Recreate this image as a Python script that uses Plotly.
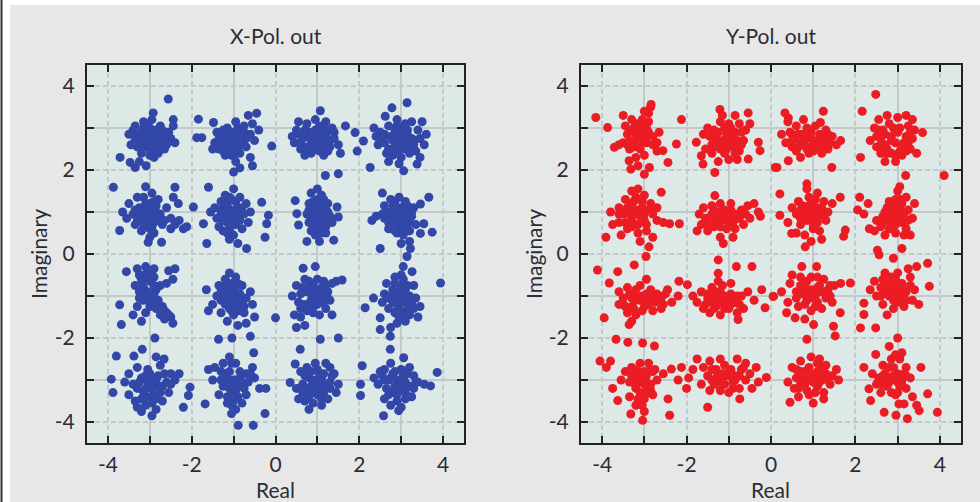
import plotly.graph_objects as go

# ---------------- data (Real, Imaginary) ----------------
xpol_points = [
    # (-3, 3)
    (-3.0,2.75),(-3.2,2.9),(-2.85,2.95),(-3.1,2.55),(-2.9,2.6),(-3.35,2.75),(-3.4,2.95),(-2.7,2.8),(-2.6,2.6),
    (-3.05,3.1),(-2.95,3.2),(-3.2,2.4),(-2.8,2.4),(-3.3,2.55),(-2.5,2.75),(-2.4,2.65),(-3.5,2.85),(-3.15,3.15),
    (-2.75,3.05),(-3.0,2.35),(-2.65,2.5),(-3.45,2.6),(-2.55,2.9),(-3.25,2.2),(-2.9,2.3),(-2.56,3.69),(-2.92,3.36),
    (-2.44,3.2),(-2.44,3.05),(-3.71,2.3),(-3.47,2.18),(-3.35,2.06),(-3.09,2.1),(-3.1,2.95),(-2.85,2.75),(-3.35,3.05),
    (-3.05,2.85),(-2.9,2.85),(-3.2,2.6),(-2.75,2.65),(-3.0,3.0),(-3.25,2.85),(-2.95,2.45),(-2.7,2.95),
    (-3.1,2.8),(-2.95,2.7),(-3.15,2.7),(-2.85,2.85),(-3.05,2.6),(-2.8,2.55),(-3.25,2.75),(-3.0,2.5),(-2.65,2.75),(-3.15,3.0),
    # (-1, 3)
    (-1.0,2.7),(-1.2,2.8),(-0.9,2.9),(-1.1,2.55),(-0.8,2.6),(-1.3,2.6),(-1.35,2.75),(-0.7,2.75),(-1.15,3.0),
    (-0.95,3.15),(-1.25,2.45),(-0.85,2.4),(-1.45,2.65),(-0.6,2.85),(-1.05,2.35),(-0.75,3.05),(-1.4,2.9),(-0.55,3.1),
    (-0.45,3.35),(-0.65,3.3),(-0.4,2.95),(-0.5,2.7),(-0.95,2.2),(-0.85,2.05),(-1.0,1.95),(-0.6,2.3),(-0.55,2.1),
    (-1.88,2.77),(-1.76,2.77),(-1.84,3.21),(-0.09,2.57),(-1.48,3.13),(-1.1,2.85),(-0.9,2.65),(-1.2,2.35),(-1.5,2.5),
    (-1.05,2.8),(-0.95,2.5),(-1.15,2.65),(-0.8,2.85),(-1.25,2.95),(-0.7,2.55),(-0.9,3.0),(-1.35,2.5),
    (-1.0,2.6),(-1.1,2.75),(-0.9,2.8),(-0.85,2.7),(-1.2,2.65),(-1.0,2.9),(-0.75,2.9),(-1.3,2.85),(-0.95,2.4),(-1.1,2.45),
    # (1, 3)
    (1.0,2.75),(0.8,2.9),(1.2,2.85),(0.9,2.6),(1.1,2.55),(0.65,2.75),(0.5,2.95),(0.45,2.65),(1.3,2.7),(1.4,2.9),
    (0.75,3.1),(1.05,3.05),(0.6,2.5),(0.85,2.4),(1.25,2.45),(1.5,2.6),(1.35,3.0),(0.55,3.15),(0.95,3.2),(1.15,2.35),
    (0.7,2.35),(1.07,3.41),(1.67,3.05),(1.9,2.89),(2.1,2.69),(1.95,2.45),(1.19,1.87),(1.5,1.91),(1.55,2.4),(0.4,2.8),
    (1.2,3.15),(0.9,2.85),
    (1.05,2.9),(0.85,2.7),(1.15,2.65),(0.7,2.95),(1.3,2.55),(0.95,2.5),(0.6,2.65),(1.4,2.75),
    (1.0,2.65),(0.9,2.75),(1.1,2.75),(0.8,2.8),(1.2,2.95),(0.95,2.95),(0.75,2.55),(1.05,2.45),(0.55,2.85),(1.25,2.6),
    # (3, 3)
    (2.95,2.7),(2.75,2.8),(3.15,2.85),(2.85,2.55),(3.1,2.5),(2.6,2.65),(2.5,2.9),(2.45,2.6),(3.3,2.7),(3.4,2.95),
    (2.7,3.05),(3.05,3.05),(3.25,3.15),(3.5,3.15),(3.6,2.85),(3.55,2.6),(2.8,2.35),(3.0,2.3),(3.2,2.4),(2.65,2.4),
    (2.4,2.8),(2.9,3.2),(3.35,2.45),(2.35,3.0),(3.14,3.6),(2.78,3.48),(2.62,3.28),(2.26,2.06),(3.38,2.14),(3.06,1.98),
    (2.95,2.15),(3.0,2.9),(2.7,2.2),(3.45,2.3),
    (2.9,2.85),(3.05,2.65),(2.8,2.7),(3.2,2.6),(2.6,2.85),(3.15,2.95),(2.95,2.45),(3.45,2.75),
    (2.95,2.8),(3.0,2.55),(2.85,2.95),(3.1,2.75),(2.7,2.5),(3.25,2.75),(2.55,2.75),(2.9,3.05),(3.3,2.6),(3.1,3.1),
    # (-3, 1)
    (-3.05,1.0),(-3.25,1.1),(-2.85,1.15),(-3.1,0.8),(-2.9,0.75),(-3.4,0.95),(-3.5,1.2),(-3.35,0.7),(-3.15,1.35),
    (-2.95,1.45),(-3.1,1.6),(-2.75,0.95),(-2.65,0.8),(-3.55,0.85),(-3.2,0.55),(-2.9,0.5),(-3.0,0.4),(-2.6,1.1),
    (-3.3,1.35),(-2.8,1.3),(-2.5,0.85),(-2.4,0.7),(-2.3,0.8),(-2.2,0.6),(-2.5,0.6),(-3.87,1.59),(-2.4,1.59),
    (-2.44,1.35),(-2.32,1.2),(-1.96,1.12),(-3.72,0.56),(-3.04,0.28),(-2.72,0.28),(-2.12,0.65),(-3.65,1.0),(-3.0,1.2),
    (-3.2,0.9),
    (-3.0,0.9),(-2.95,1.1),(-3.2,1.0),(-3.1,1.2),(-2.8,0.85),(-3.3,0.85),(-2.95,0.65),(-3.15,0.7),
    (-3.05,0.95),(-3.15,1.05),(-2.9,0.9),(-3.25,0.8),(-2.85,1.0),(-3.1,0.65),(-3.35,1.05),(-2.9,1.25),(-3.0,0.6),(-2.7,0.7),
    # (-1, 1)
    (-1.1,0.95),(-1.3,1.05),(-0.9,1.1),(-1.15,0.75),(-0.95,0.7),(-1.4,0.85),(-1.45,1.1),(-0.75,0.95),(-1.05,1.3),
    (-1.2,1.4),(-0.85,1.35),(-1.0,1.55),(-1.25,0.55),(-1.0,0.45),(-0.8,0.6),(-1.35,0.65),(-0.7,1.2),(-0.65,0.75),
    (-1.55,1.0),(-1.1,0.35),(-0.9,0.25),(-1.2,1.2),(-0.6,1.0),(-1.6,1.59),(-0.33,1.23),(-0.17,0.92),(-0.21,0.72),
    (-0.25,0.4),(-1.72,0.72),(-1.64,0.25),(-0.69,0.13),(-1.0,0.85),(-1.2,0.9),
    (-1.05,1.05),(-0.95,0.85),(-1.15,1.15),(-0.85,1.0),(-1.25,0.8),(-1.1,0.6),(-0.95,1.25),(-1.3,0.95),
    (-1.0,1.0),(-1.1,0.85),(-0.9,0.95),(-1.2,1.05),(-1.05,0.7),(-0.85,0.8),(-1.3,1.25),(-1.1,1.35),(-0.8,1.1),(-1.15,0.5),
    # (1, 1)
    (1.05,0.95),(0.9,1.1),(1.2,1.05),(0.95,0.75),(1.15,0.7),(0.85,0.85),(1.3,0.9),(1.0,1.3),(0.85,1.45),(1.0,1.55),
    (1.1,1.4),(1.25,1.2),(0.8,1.2),(1.1,0.5),(0.95,0.45),(0.85,0.55),(1.2,0.5),(1.35,0.75),(0.75,0.95),(1.05,0.3),
    (0.47,1.27),(0.51,0.96),(0.55,0.69),(0.75,0.3),(1.39,0.33),(1.47,1.12),(1.5,0.88),(1.0,1.0),(1.15,0.85),(0.9,0.65),
    (1.0,0.85),(1.1,1.2),(0.95,1.15),(1.2,0.8),(0.9,0.95),(1.05,0.6),(1.25,1.0),(0.8,1.05),
    (1.0,0.95),(1.1,0.9),(0.9,1.05),(1.05,1.15),(0.95,0.55),(1.2,0.65),(1.05,0.8),(0.9,1.25),(1.15,1.3),(0.8,0.75),
    # (3, 1)
    (2.95,0.9),(2.75,1.0),(3.15,1.05),(2.85,0.75),(3.1,0.7),(2.6,0.85),(2.4,0.9),(2.3,0.8),(2.55,1.45),(2.75,1.3),
    (2.95,1.35),(3.1,1.25),(3.25,0.9),(3.35,0.7),(2.7,0.6),(2.9,0.5),(3.05,0.45),(3.2,0.55),(2.8,1.15),(3.0,1.1),
    (3.2,0.3),(3.66,1.35),(3.46,1.19),(3.54,0.72),(3.74,0.52),(3.46,0.49),(2.5,0.13),(3.22,0.13),(3.14,-0.06),
    (2.6,1.15),(3.3,1.1),(3.0,0.25),
    (2.9,1.0),(3.0,0.8),(2.75,0.85),(3.1,0.95),(2.9,0.65),(2.65,1.0),(3.2,0.75),(2.85,1.25),
    (2.95,0.95),(2.8,0.95),(3.05,0.85),(2.9,1.1),(3.05,0.6),(2.7,0.75),(3.15,1.15),(2.55,0.95),(2.85,0.55),(3.25,1.0),
    # (-3, -1)
    (-3.0,-0.95),(-3.15,-0.8),(-2.85,-0.85),(-3.2,-0.6),(-3.05,-0.45),(-3.3,-0.35),(-3.1,-0.3),(-2.9,-0.55),
    (-3.25,-1.05),(-2.95,-1.15),(-2.8,-1.1),(-2.7,-1.25),(-2.6,-1.4),(-2.5,-1.5),(-2.45,-1.65),(-2.65,-1.55),
    (-3.3,-1.25),(-3.4,-1.45),(-3.2,-1.6),(-3.1,-1.4),(-2.55,-0.4),(-2.45,-0.6),(-2.6,-0.7),(-3.35,-0.75),
    (-2.75,-0.75),(-3.56,-0.42),(-3.72,-1.21),(-3.68,-1.68),(-2.88,-2.0),(-2.4,-0.35),(-3.0,-1.25),(-2.9,-0.35),
    (-3.1,-0.95),(-2.95,-1.0),(-3.15,-1.1),(-3.0,-0.65),(-3.15,-0.5),(-2.85,-1.3),(-3.25,-0.9),(-2.75,-1.45),
    (-3.05,-0.9),(-2.9,-0.95),(-3.1,-0.6),(-3.2,-0.75),(-2.8,-1.2),(-3.05,-1.1),(-2.65,-1.35),(-2.55,-1.45),(-3.25,-0.5),(-2.9,-0.75),
    # (-1, -1)
    (-1.1,-1.05),(-1.25,-0.9),(-0.95,-0.9),(-1.2,-1.2),(-0.9,-1.25),(-1.4,-1.0),(-1.5,-1.2),(-0.7,-1.05),
    (-1.05,-0.7),(-1.2,-0.6),(-0.95,-0.55),(-1.1,-0.45),(-1.35,-0.75),(-0.8,-0.75),(-0.6,-0.9),(-0.55,-1.2),
    (-1.6,-1.35),(-1.3,-1.4),(-1.0,-1.45),(-0.75,-1.4),(-1.15,-1.6),(-0.9,-1.7),(-0.7,-1.65),(-1.36,-2.03),
    (-1.04,-2.0),(-0.6,-1.96),(-0.52,-2.35),(0.0,-1.52),(-0.5,-1.5),(-1.0,-1.15),(-1.65,-0.85),(-0.8,-1.15),
    (-1.05,-1.0),(-0.95,-1.1),(-1.15,-0.85),(-0.85,-0.95),(-1.3,-1.1),(-1.1,-1.3),(-0.85,-1.35),(-1.2,-0.75),
    (-1.0,-1.0),(-1.1,-0.95),(-0.9,-1.05),(-1.2,-1.05),(-1.0,-0.8),(-1.15,-1.15),(-0.9,-0.7),(-1.3,-0.9),(-0.75,-1.25),(-1.05,-1.35),
    # (1, -1)
    (0.95,-0.95),(0.8,-0.8),(1.1,-0.8),(0.85,-1.1),(1.1,-1.15),(0.6,-0.95),(0.5,-0.75),(0.55,-1.15),(1.25,-0.9),
    (1.35,-0.7),(1.45,-0.65),(1.3,-1.1),(1.0,-0.6),(0.7,-0.6),(1.2,-1.3),(1.05,-1.45),(0.75,-1.35),(0.6,-1.5),
    (0.45,-1.45),(0.5,-1.75),(0.7,-1.7),(0.66,-0.34),(0.95,-0.3),(1.59,-0.62),(1.35,-1.45),(0.4,-1.0),(0.9,-1.25),
    (1.15,-1.0),
    (1.0,-0.85),(0.9,-1.0),(1.05,-1.05),(0.75,-0.9),(1.2,-0.75),(0.9,-1.4),(0.7,-1.2),(1.15,-0.65),
    (0.95,-0.9),(1.05,-0.95),(0.85,-0.95),(1.0,-1.2),(0.8,-0.65),(1.15,-1.15),(0.65,-0.8),(1.25,-1.05),(0.9,-0.7),(0.6,-1.3),
    # (3, -1)
    (2.95,-1.0),(2.8,-0.85),(3.1,-0.85),(2.8,-1.15),(3.15,-1.2),(2.6,-0.95),(2.65,-0.7),(2.85,-0.55),(3.05,-0.6),
    (3.3,-0.75),(3.35,-1.05),(3.45,-1.25),(3.2,-1.45),(3.4,-1.5),(3.0,-1.35),(2.85,-1.4),(2.7,-1.3),(2.9,-1.65),
    (3.1,-1.6),(2.75,-1.75),(3.94,-0.69),(2.14,-1.28),(2.34,-1.05),(2.5,-1.52),(2.5,-1.8),(2.74,-1.96),(3.26,-0.42),
    (3.05,-0.3),(2.55,-1.15),(3.3,-1.3),
    (2.95,-0.9),(3.0,-1.15),(2.9,-1.2),(3.2,-1.0),(2.7,-1.05),(3.0,-0.75),(3.15,-1.35),(2.95,-1.5),
    (3.0,-0.95),(2.9,-1.05),(3.05,-1.05),(2.85,-0.7),(3.15,-0.75),(2.9,-1.35),(3.1,-1.45),(2.75,-1.0),(3.25,-1.15),(3.0,-0.5),
    # (-3, -3)
    (-3.0,-3.1),(-3.2,-2.95),(-2.8,-2.9),(-3.15,-3.3),(-2.9,-3.35),(-3.4,-3.1),(-3.5,-2.85),(-2.6,-3.05),(-2.5,-2.85),
    (-2.4,-3.0),(-3.05,-2.75),(-3.3,-2.7),(-2.75,-2.65),(-3.35,-3.5),(-3.1,-3.6),(-2.85,-3.7),(-2.7,-3.5),(-3.5,-3.35),
    (-2.55,-3.3),(-3.2,-3.75),(-2.95,-3.85),(-3.6,-3.05),(-3.8,-2.43),(-3.38,-2.43),(-3.18,-2.27),(-3.92,-2.98),
    (-3.88,-3.3),(-2.66,-2.5),(-2.85,-2.45),(-2.04,-3.17),(-2.08,-3.37),(-2.2,-3.65),(-3.3,-3.65),(-2.3,-2.85),
    (-3.0,-3.4),(-2.8,-3.15),
    (-3.0,-3.0),(-3.1,-3.2),(-2.9,-3.05),(-3.25,-3.05),(-2.75,-3.3),(-2.95,-3.55),(-3.2,-3.45),(-2.65,-2.85),
    (-3.05,-3.05),(-2.95,-3.2),(-3.1,-2.9),(-2.85,-3.0),(-3.3,-3.2),(-2.7,-3.15),(-3.0,-2.85),(-3.15,-3.45),(-2.85,-3.45),(-2.5,-3.1),
    # (-1, -3)
    (-1.0,-3.1),(-1.15,-2.95),(-0.85,-2.95),(-1.05,-3.3),(-0.9,-3.4),(-1.3,-2.8),(-1.45,-2.7),(-1.6,-2.75),
    (-1.05,-2.6),(-1.1,-2.45),(-0.7,-2.85),(-0.55,-2.7),(-0.5,-2.95),(-1.25,-3.15),(-1.35,-3.35),(-1.15,-3.55),
    (-0.95,-3.7),(-0.8,-3.55),(-1.05,-3.8),(-0.75,-3.2),(-1.68,-3.57),(-0.38,-3.2),(-0.23,-3.2),(-0.25,-3.8),
    (-0.89,-4.08),(-0.53,-4.08),(-1.2,-3.0),(-0.65,-3.05),(-1.5,-3.0),
    (-1.0,-3.0),(-1.1,-3.2),(-0.9,-3.15),(-1.2,-2.85),(-0.85,-2.8),(-1.0,-3.5),(-1.25,-2.6),(-0.6,-2.85),
    (-1.05,-3.05),(-0.95,-3.0),(-1.1,-2.8),(-0.95,-3.25),(-1.15,-3.4),(-0.8,-3.05),(-1.3,-3.0),(-0.95,-2.6),(-0.7,-3.35),(-1.05,-3.6),
    # (1, -3)
    (0.95,-3.1),(0.8,-2.95),(1.1,-2.95),(0.85,-3.3),(1.15,-3.3),(0.65,-3.1),(0.6,-2.8),(0.75,-2.7),(1.3,-3.05),
    (1.4,-2.85),(1.3,-2.7),(1.5,-3.1),(1.0,-2.75),(1.2,-2.6),(0.5,-3.2),(0.7,-3.5),(0.9,-3.55),(1.1,-3.6),
    (1.25,-3.45),(0.8,-3.7),(0.59,-2.27),(1.07,-2.03),(1.5,-2.0),(0.35,-3.06),(0.47,-2.62),(1.0,-3.35),(0.55,-3.45),
    (1.45,-3.3),
    (0.95,-3.0),(1.05,-3.15),(0.85,-3.15),(1.15,-2.85),(0.7,-2.9),(1.3,-3.2),(0.95,-2.6),(0.65,-3.3),
    (1.0,-3.05),(0.9,-3.05),(1.05,-2.85),(1.2,-3.1),(0.8,-3.4),(1.1,-3.45),(0.7,-3.2),(1.35,-2.9),(0.85,-2.8),(1.0,-3.25),
    # (3, -3)
    (2.9,-3.1),(2.75,-2.95),(3.05,-2.9),(2.8,-3.3),(3.1,-3.3),(2.6,-3.0),(2.45,-3.1),(2.35,-2.95),(2.6,-2.75),
    (2.75,-2.6),(3.2,-2.7),(3.3,-2.9),(3.4,-3.05),(3.55,-3.1),(3.2,-3.15),(2.9,-3.5),(2.75,-3.6),(2.6,-3.45),
    (3.0,-3.65),(3.25,-3.4),(2.74,-2.27),(3.06,-2.47),(3.86,-2.82),(2.07,-2.66),(2.03,-3.1),(2.03,-3.37),(2.58,-3.85),
    (2.94,-3.73),(3.7,-3.14),(2.5,-2.8),(3.0,-2.75),
    (2.9,-3.0),(3.0,-3.2),(2.85,-2.8),(3.1,-3.05),(2.65,-3.2),(3.3,-3.2),(2.9,-3.35),(2.7,-3.0),
    (2.95,-3.05),(2.85,-3.15),(3.05,-3.0),(2.8,-2.85),(3.15,-2.85),(2.95,-3.25),(3.1,-3.45),(2.7,-3.35),(2.55,-2.9),(3.35,-3.05),
]

ypol_points = [
    # (-3, 3)
    (-3.1,2.85),(-3.25,3.0),(-2.95,3.0),(-3.2,2.7),(-2.95,2.65),(-3.4,2.85),(-3.45,3.05),(-3.3,3.2),(-3.05,3.2),
    (-2.9,3.35),(-2.85,3.5),(-3.5,2.65),(-3.35,2.5),(-3.1,2.5),(-2.8,2.8),(-2.7,2.65),(-2.65,2.9),(-3.0,2.35),
    (-3.2,2.3),(-3.6,2.6),(-2.84,3.56),(-4.15,3.25),(-3.87,3.01),(-3.71,2.54),(-3.36,2.22),(-3.32,2.02),(-3.0,1.9),
    (-2.88,2.06),(-2.56,2.46),(-2.44,2.18),(-2.12,3.2),(-2.24,2.62),(-3.5,3.3),(-3.15,2.1),(-2.7,2.45),
    (-3.05,2.85),(-3.15,3.05),(-2.95,2.8),(-3.3,2.95),(-3.1,2.65),(-3.25,2.55),(-2.9,3.15),(-3.0,3.4),
    (-3.1,2.95),(-3.0,2.75),(-3.2,2.85),(-3.15,2.6),(-2.9,2.9),(-3.35,2.7),(-3.0,3.1),(-2.8,2.6),(-3.4,2.6),(-3.2,3.1),
    # (-1, 3)
    (-1.05,2.75),(-1.25,2.9),(-0.85,2.9),(-1.3,2.6),(-0.9,2.55),(-1.45,2.8),(-1.5,3.0),(-1.2,3.15),(-1.0,3.1),
    (-0.75,3.1),(-0.6,2.95),(-0.65,2.7),(-0.75,2.45),(-1.1,2.4),(-1.4,2.4),(-1.55,2.5),(-1.0,2.25),(-0.8,2.25),
    (-1.25,2.2),(-1.15,3.3),(-0.85,3.3),(-0.54,3.36),(-1.21,3.44),(-1.77,2.66),(-1.65,2.34),(-1.61,2.14),(-1.33,1.94),
    (-0.26,2.46),(-0.3,2.66),(-0.54,2.26),(0.1,2.06),(-1.6,2.85),(-0.5,3.1),
    (-1.1,2.6),(-0.95,2.65),(-1.35,2.95),(-1.2,2.5),(-0.8,2.7),(-0.95,3.0),(-1.4,2.6),(-0.7,2.9),
    (-1.05,2.85),(-1.15,2.7),(-0.95,2.8),(-1.3,2.75),(-0.85,2.6),(-1.1,3.0),(-1.35,2.55),(-0.7,2.6),(-1.05,2.5),(-0.85,2.4),
    # (1, 3)
    (0.95,2.75),(0.75,2.85),(1.15,2.85),(0.8,2.6),(1.1,2.55),(0.55,2.75),(0.45,2.9),(0.5,2.55),(0.6,2.45),(0.35,2.65),
    (1.3,2.7),(1.45,2.8),(1.55,2.6),(1.3,2.95),(1.05,3.05),(0.6,3.05),(0.4,3.15),(0.9,2.4),(1.2,2.4),(0.33,3.36),
    (0.41,3.24),(0.77,3.2),(1.24,3.4),(1.17,3.13),(0.41,2.22),(0.14,2.06),(1.44,2.06),(1.65,2.7),(0.7,2.3),(1.35,2.5),
    (0.25,2.85),
    (0.9,2.85),(1.05,2.65),(0.7,2.65),(1.2,2.75),(0.5,2.7),(0.85,2.5),(1.35,2.85),(0.65,2.85),
    (0.95,2.9),(1.0,2.6),(0.8,2.75),(1.1,2.7),(0.65,2.55),(1.25,2.6),(0.5,2.85),(1.0,2.45),(0.85,3.0),(1.4,2.65),
    # (3, 3)
    (2.85,2.8),(2.65,2.95),(3.05,3.0),(2.7,2.6),(3.1,2.55),(2.5,2.8),(2.45,3.0),(2.5,2.55),(2.6,2.4),(2.85,2.4),
    (3.1,2.35),(3.3,2.5),(3.35,2.75),(3.25,3.05),(3.0,3.25),(2.75,3.3),(2.55,3.2),(3.2,3.3),(3.4,2.95),(2.95,2.2),
    (2.48,3.8),(2.16,3.4),(2.12,2.3),(3.59,2.89),(3.19,1.87),(4.1,1.87),(2.35,2.7),(3.45,2.4),(2.7,2.2),(3.35,3.2),
    (2.6,2.75),(2.95,2.65),(2.8,3.1),(3.2,2.8),(2.55,2.95),(3.05,2.45),(2.75,2.5),(3.25,2.65),
    (2.85,2.7),(2.7,2.85),(3.0,2.9),(3.15,2.65),(2.6,2.6),(2.9,3.0),(3.2,2.45),(2.75,2.4),(3.3,2.9),(2.95,2.35),
    # (-3, 1)
    (-3.2,0.95),(-3.35,1.1),(-3.05,1.1),(-3.3,0.8),(-3.0,0.8),(-3.5,0.95),(-3.6,1.1),(-3.45,1.3),(-3.2,1.35),
    (-3.0,1.4),(-3.15,1.55),(-2.85,1.2),(-2.8,0.95),(-2.7,0.8),(-2.55,0.75),(-2.4,0.72),(-3.6,0.75),(-3.4,0.6),
    (-3.15,0.5),(-2.95,0.55),(-3.55,0.45),(-2.6,1.47),(-3.91,0.4),(-2.89,0.17),(-2.17,0.72),(-2.8,0.4),(-3.75,0.7),
    (-3.3,1.5),(-2.7,1.1),(-3.1,0.3),(-3.8,1.0),
    (-3.25,0.95),(-3.1,1.05),(-3.4,1.1),(-3.3,1.2),(-3.0,0.95),(-3.15,0.7),(-2.9,1.05),(-3.45,0.75),
    (-3.2,1.05),(-3.35,0.95),(-3.1,0.9),(-3.25,1.25),(-3.45,1.0),(-3.05,1.25),(-3.3,0.65),(-2.95,0.7),(-3.6,0.95),(-2.8,1.05),
    # (-1, 1)
    (-1.15,0.8),(-1.3,0.95),(-1.0,0.95),(-1.35,0.65),(-1.05,0.6),(-1.55,0.85),(-1.7,0.95),(-1.65,0.7),(-1.5,0.55),
    (-1.2,1.2),(-0.95,1.2),(-1.4,1.15),(-0.8,0.85),(-0.7,1.05),(-0.55,1.15),(-0.4,1.2),(-0.3,1.0),(-0.5,0.85),
    (-0.65,0.7),(-0.85,0.6),(-1.33,1.39),(-1.13,0.25),(-1.2,0.4),(-0.9,0.4),(-1.75,0.55),(-0.25,0.9),(-1.0,0.75),
    (-1.6,1.1),
    (-1.2,0.9),(-1.05,0.85),(-1.4,0.95),(-1.3,0.8),(-0.9,0.75),(-1.1,1.05),(-0.6,0.95),(-1.5,0.7),
    (-1.1,0.9),(-1.25,0.85),(-1.0,0.85),(-1.15,1.05),(-1.35,1.05),(-0.85,0.95),(-1.45,0.75),(-0.75,0.85),(-1.2,0.65),(-0.95,1.05),
    # (1, 1)
    (0.95,0.95),(0.8,1.1),(1.1,1.1),(0.85,0.8),(1.1,0.75),(0.6,0.95),(0.5,1.1),(0.65,1.25),(0.9,1.35),(0.85,1.55),
    (1.1,1.45),(1.25,1.25),(1.35,1.0),(1.45,1.2),(1.3,0.8),(0.7,0.7),(0.6,0.5),(0.8,0.45),(0.95,0.3),(1.15,0.55),
    (0.21,1.43),(0.21,0.92),(1.76,0.57),(1.72,0.42),(0.85,1.67),(0.49,0.49),(0.81,0.17),(1.64,1.35),(0.4,0.75),
    (1.2,0.35),
    (1.0,1.05),(0.9,0.85),(1.1,0.95),(0.75,1.0),(1.2,1.1),(0.95,1.2),(0.7,0.85),(1.0,0.6),
    (0.95,1.0),(1.05,0.85),(0.85,0.95),(1.15,1.0),(0.9,1.15),(1.0,0.7),(0.75,1.15),(1.25,0.9),(1.05,1.3),(0.7,1.05),
    # (3, 1)
    (2.9,0.95),(2.75,1.1),(3.05,1.1),(2.8,0.8),(3.1,0.75),(2.65,0.9),(2.95,1.3),(3.0,1.5),(3.2,1.35),(3.25,1.05),
    (3.35,0.85),(2.6,0.65),(2.45,0.55),(2.7,0.45),(2.95,0.5),(3.15,0.45),(3.3,0.45),(2.1,1.35),(2.05,1.05),(2.2,0.95),
    (2.3,1.2),(2.52,0.09),(3.1,0.13),(2.33,0.6),(2.8,1.25),(3.4,1.2),(2.5,0.8),(3.05,1.6),
    (2.9,1.05),(2.85,0.9),(3.05,0.9),(3.1,1.2),(2.7,1.0),(2.95,0.7),(2.8,0.6),(3.2,0.6),
    (2.95,1.0),(2.85,1.05),(3.0,0.8),(3.15,0.95),(2.75,0.9),(2.9,1.2),(3.05,1.3),(2.65,0.75),(3.25,0.8),(2.85,0.7),
    # (-3, -1)
    (-3.1,-1.1),(-3.25,-0.95),(-2.95,-0.95),(-3.3,-1.25),(-3.0,-1.25),(-3.5,-1.05),(-3.6,-0.9),(-3.4,-0.8),
    (-3.1,-0.75),(-2.8,-1.05),(-2.65,-1.1),(-2.5,-0.95),(-2.35,-1.15),(-2.6,-1.3),(-2.8,-1.35),(-3.2,-1.45),
    (-3.4,-1.4),(-3.6,-1.2),(-2.95,-0.6),(-4.11,-0.38),(-3.83,-0.69),(-3.95,-1.52),(-3.63,-0.42),(-3.24,-0.26),
    (-2.96,-0.06),(-2.18,-0.65),(-1.98,-0.73),(-3.36,-1.68),(-2.45,-0.85),(-3.3,-1.6),(-2.2,-1.0),
    (-3.15,-1.05),(-3.0,-1.1),(-3.3,-1.05),(-2.9,-1.2),(-3.2,-0.85),(-2.7,-0.95),(-3.45,-1.25),(-2.55,-1.2),
    (-3.05,-1.0),(-3.2,-1.1),(-2.9,-1.05),(-3.35,-0.95),(-3.05,-1.35),(-2.75,-1.15),(-3.25,-1.3),(-2.85,-0.85),(-3.5,-1.2),(-2.6,-1.05),
    # (-1, -1)
    (-1.1,-1.1),(-1.25,-0.95),(-0.95,-0.95),(-1.3,-1.25),(-1.0,-1.3),(-1.5,-1.05),(-1.65,-0.9),(-1.75,-1.15),
    (-1.6,-1.3),(-1.4,-0.8),(-1.15,-0.75),(-0.85,-1.15),(-0.7,-1.0),(-0.65,-1.3),(-0.8,-1.4),(-0.55,-0.9),
    (-1.2,-1.45),(-1.45,-1.4),(-1.25,-0.14),(-1.25,-0.46),(-1.25,-0.65),(-0.82,-0.3),(-0.45,-0.3),(-0.22,-0.85),
    (-0.14,-1.28),(0.06,-1.01),(-0.78,-1.56),(-1.85,-1.0),(-0.95,-0.7),(-0.4,-1.1),
    (-1.15,-1.05),(-1.05,-1.15),(-1.35,-1.1),(-1.2,-0.9),(-0.9,-1.1),(-1.55,-1.2),(-0.75,-1.2),(-1.3,-1.0),
    (-1.1,-1.0),(-1.2,-1.15),(-1.0,-1.05),(-1.4,-1.15),(-1.3,-0.9),(-0.95,-1.2),(-1.5,-0.95),(-0.8,-1.0),(-1.1,-1.3),(-1.35,-1.3),
    # (1, -1)
    (0.95,-0.95),(0.8,-0.8),(1.1,-0.8),(0.85,-1.1),(1.1,-1.15),(0.6,-0.9),(0.45,-0.7),(0.5,-0.5),(0.7,-0.55),
    (0.95,-0.55),(1.25,-0.6),(1.35,-0.85),(1.5,-0.75),(1.65,-0.7),(1.3,-1.05),(1.2,-1.3),(0.95,-1.35),(0.65,-1.25),
    (0.4,-1.15),(0.05,-1.01),(0.73,-0.3),(1.08,-0.3),(1.88,-0.69),(0.57,-1.52),(0.37,-1.4),(1.64,-1.4),(0.25,-0.9),
    (1.45,-1.15),(0.8,-1.55),
    (0.95,-0.85),(1.0,-1.05),(0.75,-0.95),(1.2,-0.9),(0.85,-0.65),(1.1,-0.55),(0.6,-1.05),(1.4,-1.0),
    (1.0,-0.9),(0.9,-0.95),(1.05,-1.0),(0.85,-0.85),(1.15,-0.75),(0.7,-0.75),(1.3,-0.9),(1.05,-1.25),(0.8,-1.2),(1.4,-0.75),
    # (3, -1)
    (2.95,-0.85),(2.8,-0.7),(3.1,-0.7),(2.8,-1.0),(3.1,-1.0),(2.6,-0.8),(2.45,-0.65),(2.5,-1.0),(2.65,-1.2),
    (2.9,-1.3),(3.15,-1.25),(3.35,-1.1),(3.4,-0.85),(3.3,-0.55),(3.0,-0.45),(2.7,-0.45),(3.45,-0.3),(3.25,-0.35),
    (2.35,-0.85),(2.56,-0.02),(2.9,-0.1),(3.71,-0.22),(3.75,-0.77),(2.12,-1.76),(2.48,-1.76),(2.2,-1.17),(2.2,-1.44),
    (3.5,-1.2),(2.75,-1.45),
    (2.95,-0.95),(2.85,-0.8),(3.05,-0.85),(3.2,-0.9),(2.7,-0.9),(2.95,-0.6),(3.0,-1.15),(2.65,-0.6),
    (2.95,-0.8),(3.0,-0.95),(2.85,-0.95),(3.1,-0.8),(2.75,-0.75),(2.9,-1.1),(3.2,-1.1),(2.6,-1.0),(3.3,-0.75),(2.85,-0.55),
    # (-3, -3)
    (-3.1,-3.05),(-3.25,-2.9),(-2.95,-2.9),(-3.2,-3.2),(-2.95,-3.25),(-3.35,-3.05),(-3.3,-2.7),(-3.1,-2.6),
    (-2.9,-2.6),(-2.75,-2.75),(-2.7,-3.0),(-2.8,-3.35),(-3.05,-3.5),(-3.2,-3.6),(-3.0,-3.75),(-3.35,-3.4),
    (-3.45,-2.8),(-3.55,-3.0),(-3.8,-2.55),(-4.05,-2.55),(-3.9,-2.7),(-3.67,-2.03),(-3.39,-2.1),(-3.04,-2.12),
    (-2.76,-2.19),(-3.75,-3.2),(-3.63,-3.49),(-2.44,-3.45),(-2.4,-3.84),(-3.32,-3.81),(-3.04,-3.96),(-2.36,-2.74),
    (-2.12,-2.7),(-2.2,-3.0),(-2.55,-2.85),(-3.15,-2.8),(-2.85,-3.1),
    (-3.1,-2.95),(-3.0,-3.1),(-3.2,-3.05),(-2.9,-2.8),(-3.1,-3.3),(-3.25,-2.75),(-2.85,-3.25),(-3.05,-3.6),
    (-3.05,-3.0),(-3.15,-2.95),(-2.95,-3.05),(-3.2,-3.15),(-3.0,-2.8),(-3.3,-2.9),(-2.9,-3.3),(-3.15,-3.45),(-2.8,-2.8),(-3.0,-3.45),
    # (-1, -3)
    (-1.1,-2.9),(-1.3,-2.75),(-0.95,-2.75),(-1.25,-3.05),(-0.9,-3.05),(-1.5,-2.9),(-1.6,-2.7),(-1.45,-2.55),
    (-1.2,-2.5),(-0.8,-2.5),(-0.6,-2.6),(-0.5,-2.85),(-0.6,-3.0),(-0.35,-2.7),(-0.3,-3.05),(-1.65,-3.1),
    (-1.45,-3.25),(-1.2,-3.25),(-0.75,-3.2),(-1.85,-2.75),(-1.95,-2.95),(-2.0,-3.2),(-1.5,-3.65),(-0.74,-3.45),
    (-0.11,-2.94),(-1.75,-2.5),(-1.0,-3.3),(-0.45,-3.2),
    (-1.15,-2.85),(-1.0,-2.9),(-1.3,-2.95),(-0.85,-2.9),(-1.1,-2.65),(-0.7,-2.75),(-1.35,-3.1),(-0.9,-3.2),
    (-1.05,-2.85),(-1.15,-2.95),(-0.95,-2.85),(-1.25,-2.85),(-0.85,-3.0),(-1.4,-2.75),(-0.75,-2.9),(-1.1,-3.1),(-1.4,-3.0),(-0.65,-2.7),
    # (1, -3)
    (0.95,-2.95),(0.8,-2.8),(1.1,-2.8),(0.8,-3.1),(1.1,-3.15),(0.6,-2.95),(0.5,-2.7),(0.55,-3.2),(0.65,-3.4),
    (0.9,-3.35),(1.25,-3.3),(1.4,-3.1),(1.45,-2.9),(1.3,-2.65),(1.15,-2.5),(0.95,-2.45),(0.7,-2.55),(1.55,-2.75),
    (1.6,-3.0),(0.4,-3.05),(0.85,-2.03),(1.48,-1.72),(1.52,-1.95),(1.01,-1.68),(1.25,-3.45),(0.45,-3.53),(1.0,-3.55),
    (0.75,-3.0),(1.2,-3.0),
    (0.95,-2.85),(1.0,-3.05),(0.7,-2.8),(1.25,-2.9),(0.85,-3.25),(1.3,-2.85),(0.65,-3.2),(1.1,-2.6),
    (0.95,-2.9),(1.05,-2.95),(0.85,-2.95),(1.15,-3.05),(0.9,-2.7),(0.7,-3.1),(1.35,-3.0),(1.05,-3.3),(0.6,-2.75),(1.2,-2.7),
    # (3, -3)
    (2.85,-3.0),(2.7,-2.85),(3.0,-2.85),(2.75,-3.15),(3.05,-3.15),(2.55,-2.95),(2.4,-2.85),(2.5,-3.1),(2.65,-2.65),
    (2.85,-2.5),(2.8,-2.2),(3.0,-2.0),(3.1,-2.35),(3.2,-2.7),(3.3,-2.95),(3.2,-3.2),(2.95,-3.35),(3.35,-3.4),
    (3.45,-3.6),(2.68,-3.77),(2.96,-3.84),(3.23,-3.92),(3.03,-3.57),(3.15,-3.57),(3.51,-3.73),(3.71,-3.33),
    (3.94,-3.77),(3.55,-2.7),(2.48,-2.39),(2.2,-2.7),(2.32,-3.21),(2.36,-3.49),(2.6,-3.3),(3.1,-3.0),
    (2.9,-2.9),(2.8,-3.05),(3.0,-3.05),(2.65,-2.9),(2.9,-2.7),(3.15,-2.85),(2.85,-3.3),(3.05,-2.5),
    (2.85,-2.95),(2.95,-2.95),(2.75,-3.0),(3.05,-2.9),(2.8,-2.7),(3.1,-3.1),(2.65,-3.1),(3.0,-3.3),(3.2,-2.9),(2.95,-2.4),
]

panel_titles = ["X-Pol. out", "Y-Pol. out"]
x_title = "Real"
y_title = "Imaginary"
tick_values = [-4, -2, 0, 2, 4]
tick_labels = ["-4", "-2", "0", "2", "4"]
minor_tick_values = [-3, -1, 1, 3]

# ---------------- styling ----------------
W, H = 980, 502
ML, MR, MT, MB = 87, 19, 65, 59
PW, PH = W - ML - MR, H - MT - MB

BLUE = "#3347a8"
RED = "#ec1c24"
PLOT_BG = "#dce9e6"
PAPER_BG = "#e7e7e7"
GRID = "#c4c8c8"
AXC = "#222222"
TXT = "#2c2c36"
FONT = "Lato"

def px_x(p):
    return (p - ML) / PW

def px_y(p):
    return (H - MB - p) / PH

dom1 = [0.0, px_x(464)]
dom2 = [px_x(581), 1.0]

fig = go.Figure()
fig.add_trace(go.Scatter(
    x=[p[0] for p in xpol_points], y=[p[1] for p in xpol_points],
    mode="markers", marker=dict(color=BLUE, size=9, line=dict(width=0)),
    xaxis="x", yaxis="y", showlegend=False, hoverinfo="skip"))
fig.add_trace(go.Scatter(
    x=[p[0] for p in ypol_points], y=[p[1] for p in ypol_points],
    mode="markers", marker=dict(color=RED, size=9, line=dict(width=0)),
    xaxis="x2", yaxis="y2", showlegend=False, hoverinfo="skip"))

def axis(domain, anchor, standoff):
    return dict(
        domain=domain, anchor=anchor, range=[-4.5, 4.5],
        tickmode="array", tickvals=tick_values, ticktext=tick_labels,
        ticks="inside", ticklen=7, tickwidth=2, tickcolor=AXC,
        showline=True, linecolor=AXC, linewidth=2, mirror="ticks",
        showgrid=True, gridcolor=GRID, gridwidth=1.5, griddash="5px,3px",
        zeroline=False, ticklabelstandoff=standoff,
        tickfont=dict(family=FONT, size=21, color=TXT),
        minor=dict(tickvals=minor_tick_values, ticks="inside", ticklen=7, tickwidth=2,
                   tickcolor=AXC, showgrid=True, gridcolor=GRID, gridwidth=1.5,
                   griddash="solid"),
        fixedrange=True,
    )

fig.update_layout(
    width=W, height=H,
    margin=dict(l=ML, r=MR, t=MT, b=MB),
    paper_bgcolor=PAPER_BG, plot_bgcolor=PLOT_BG,
    xaxis=axis(dom1, "y", 2), yaxis=axis([0, 1], "x", 6),
    xaxis2=axis(dom2, "y2", 2), yaxis2=axis([0, 1], "x2", 6),
    showlegend=False,
)

ann = []
for dom, t in zip([dom1, dom2], panel_titles):
    cx = (dom[0] + dom[1]) / 2
    ann.append(dict(x=cx, y=px_y(35), xref="paper", yref="paper", text=t, showarrow=False,
                    xanchor="center", yanchor="middle", font=dict(family=FONT, size=21, color=TXT)))
    ann.append(dict(x=cx, y=px_y(489), xref="paper", yref="paper", text=x_title, showarrow=False,
                    xanchor="center", yanchor="middle", font=dict(family=FONT, size=21, color=TXT)))
for xp in [38, 533]:
    ann.append(dict(x=px_x(xp), y=0.5, xref="paper", yref="paper", text=y_title, showarrow=False,
                    textangle=-90, xanchor="center", yanchor="middle",
                    font=dict(family=FONT, size=21, color=TXT)))
fig.update_layout(annotations=ann)

fig.update_layout(shapes=[
    dict(type="rect", xref="paper", yref="paper", x0=px_x(-5), x1=px_x(W + 5), y0=px_y(5), y1=px_y(-5),
         fillcolor="white", line=dict(width=0), layer="above"),
    dict(type="rect", xref="paper", yref="paper", x0=px_x(-5), x1=px_x(10), y0=px_y(H + 5), y1=px_y(-5),
         fillcolor="white", line=dict(width=0), layer="above"),
    dict(type="line", xref="paper", yref="paper", x0=px_x(1.5), x1=px_x(1.5), y0=px_y(H + 5), y1=px_y(-5),
         line=dict(color="#333333", width=2), layer="above"),
])

fig.write_html("out.html", config={"displayModeBar": False},
               post_script="document.body.style.margin='0';document.body.style.overflow='hidden';")
